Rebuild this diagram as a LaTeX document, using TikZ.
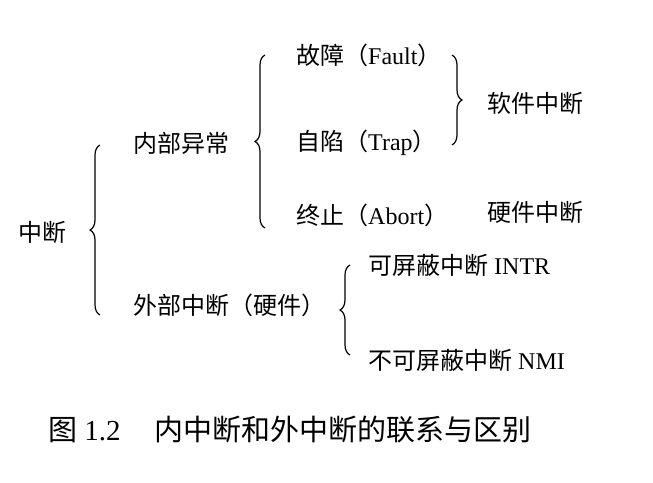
\documentclass[tikz,border=0pt]{standalone}
\usepackage{fontspec}
\setmainfont{Liberation Serif}
\newfontfamily\cjk{Noto Sans CJK SC}
\usetikzlibrary{decorations.pathreplacing}
\begin{document}
\begin{tikzpicture}[x=1pt,y=-1pt,
 lab/.style={font=\fontsize{24}{27}\selectfont, inner sep=0pt, anchor=west},
 br/.style={decorate,decoration={brace,amplitude=10pt},line width=1.2pt}]
\useasboundingbox (0,0) rectangle (653,482);
\node[lab] (zd) at (18,232) {\cjk 中断};
\node[lab] (nb) at (133,143) {\cjk 内部异常};
\node[lab] (wb) at (133,305) {{\cjk 外部中断（硬件）}};
\node[lab] (gz) at (296,55) {{\cjk 故障（}Fault{\cjk ）}};
\node[lab] (zx) at (296,143) {{\cjk 自陷（}Trap{\cjk ）}};
\node[lab] (zz) at (296,215) {{\cjk 终止（}Abort{\cjk ）}};
\node[lab] (rj) at (487,103) {\cjk 软件中断};
\node[lab] (yj) at (487,212) {\cjk 硬件中断};
\node[lab] (kp) at (368,265) {{\cjk 可屏蔽中断} INTR};
\node[lab] (bk) at (368,360) {{\cjk 不可屏蔽中断} NMI};
\node[lab,font=\fontsize{29}{32}\selectfont] (cap) at (48,430) {{\cjk 图} 1.2\hspace{34pt}{\cjk 内中断和外中断的联系与区别}};
\coordinate (a1) at (100,145); \coordinate (a2) at (100,315);
\draw[br] (a2) -- (a1);
\coordinate (b1) at (265,55); \coordinate (b2) at (265,228);
\draw[br] (b2) -- (b1);
\coordinate (c1) at (452,55); \coordinate (c2) at (452,145);
\draw[br] (c1) -- (c2);
\coordinate (d1) at (350,265); \coordinate (d2) at (350,355);
\draw[br] (d2) -- (d1);
\end{tikzpicture}
\end{document}
